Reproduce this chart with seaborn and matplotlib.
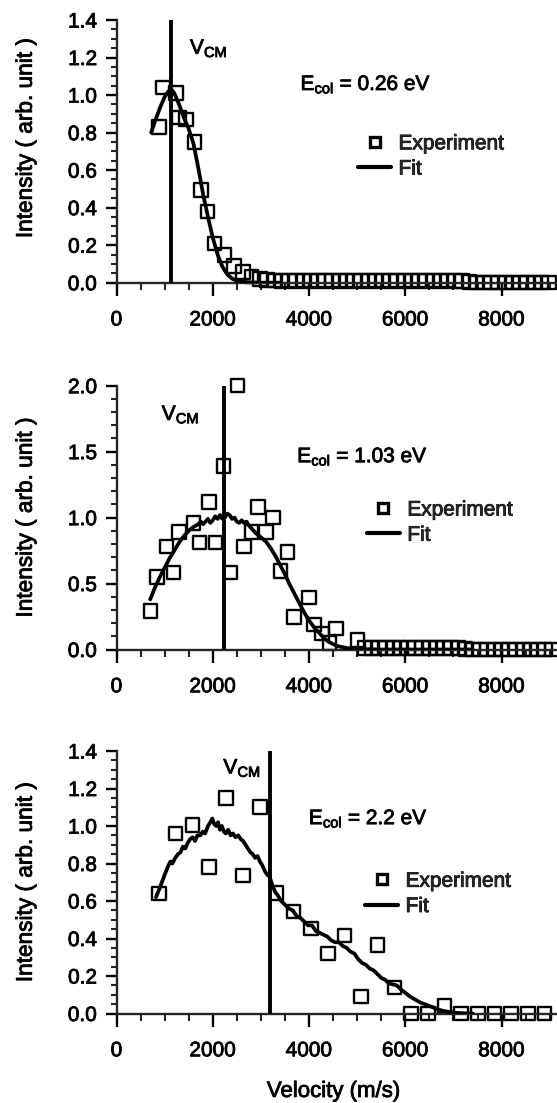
import matplotlib
matplotlib.use("Agg")
import matplotlib.pyplot as plt
import matplotlib.patheffects as pe
from matplotlib.text import Text
from matplotlib.lines import Line2D
from matplotlib.ticker import MultipleLocator, FormatStrFormatter
import seaborn as sns

# ---------------- data ----------------
# Panel 1 : Ecol = 0.26 eV
exp1_v = [880, 961, 1240, 1300, 1445, 1618, 1757, 1895, 2033, 2245, 2440, 2630, 2805, 2977,
          3130, 3280, 3430, 3580, 3730, 3880, 4030, 4180, 4330, 4480, 4630, 4780, 4930, 5080,
          5230, 5380, 5530, 5680, 5830, 5980, 6130, 6280, 6430, 6580, 6730, 6880, 7030, 7180,
          7330, 7480, 7630, 7780, 7930, 8080, 8230, 8380, 8530, 8680, 8830, 8980]
exp1_i = [0.83, 1.04, 1.01, 0.88, 0.87, 0.75, 0.495, 0.38, 0.21, 0.148, 0.09, 0.058, 0.032, 0.02,
          0.015, 0.012, 0.01, 0.012, 0.01, 0.012, 0.01, 0.012, 0.01, 0.012, 0.01, 0.012, 0.01, 0.012,
          0.01, 0.012, 0.01, 0.012, 0.01, 0.012, 0.01, 0.012, 0.01, 0.012, 0.01, 0.012, 0.01, 0.01,
          0.005, 0.0, 0.0, 0.0, 0.0, 0.0, 0.0, 0.0, 0.0, 0.0, 0.0, 0.0]
fit1_v = [720, 800, 900, 1000, 1080, 1140, 1200, 1300, 1400, 1500, 1600, 1700, 1800, 1900,
          2000, 2100, 2200, 2300, 2400, 2500, 2700, 3000, 3400]
fit1_i = [0.80, 0.86, 0.93, 0.99, 1.02, 1.03, 1.01, 0.95, 0.88, 0.82, 0.74, 0.61, 0.47, 0.35,
          0.24, 0.15, 0.085, 0.045, 0.022, 0.01, 0.003, 0.0, 0.0]

# Panel 2 : Ecol = 1.03 eV
exp2_v = [707, 846, 1040, 1185, 1300, 1600, 1720, 1920, 2060, 2225, 2370, 2515, 2650, 2800,
          2940, 3110, 3250, 3410, 3550, 3690, 4000, 4100, 4270, 4420, 4560, 5010,
          5150, 5300, 5450, 5600, 5750, 5900, 6050, 6200, 6350, 6500, 6650, 6800, 6950, 7100,
          7250, 7400, 7550, 7700, 7850, 8000, 8150, 8300, 8450, 8600, 8750, 8900, 9050]
exp2_i = [0.29, 0.55, 0.78, 0.585, 0.89, 0.96, 0.81, 1.12, 0.81, 1.39, 0.585, 2.0, 0.78, 0.89,
          1.08, 0.89, 1.0, 0.595, 0.74, 0.245, 0.395, 0.19, 0.12, 0.05, 0.16, 0.07,
          0.012, 0.01, 0.012, 0.01, 0.012, 0.01, 0.012, 0.01, 0.012, 0.01, 0.012, 0.01, 0.012, 0.01,
          0.005, 0.0, 0.0, 0.0, 0.0, 0.0, 0.0, 0.0, 0.0, 0.0, 0.0, 0.0, 0.0]
fit2_v = [700, 800, 900, 1000, 1100, 1200, 1300, 1400, 1500, 1600, 1700, 1750, 1800, 1850, 1900,
          1950, 2000, 2050, 2100, 2150, 2200, 2250, 2300, 2350, 2400, 2450, 2500, 2550, 2600,
          2650, 2700, 2750, 2800, 2900, 3000, 3100, 3200, 3300, 3400, 3500, 3600, 3700, 3800,
          3900, 4000, 4100, 4200, 4300, 4400, 4500, 4600, 4800, 5000, 5500, 6500, 7400]
fit2_i = [0.38, 0.47, 0.55, 0.62, 0.69, 0.75, 0.81, 0.86, 0.90, 0.93, 0.95, 0.97, 0.95, 0.97, 0.99,
          0.96, 0.98, 1.01, 0.99, 1.02, 0.99, 1.00, 1.03, 1.02, 0.99, 1.00, 0.97, 0.96, 0.98,
          0.96, 0.97, 0.94, 0.92, 0.88, 0.85, 0.82, 0.77, 0.71, 0.64, 0.57, 0.49, 0.42, 0.35,
          0.28, 0.22, 0.17, 0.13, 0.09, 0.06, 0.04, 0.025, 0.01, 0.004, 0.0, 0.0, 0.0]

# Panel 3 : Ecol = 2.2 eV
exp3_v = [880, 1229, 1577, 1923, 2271, 2632, 2979, 3327, 3673, 4042, 4389, 4736, 5083, 5417,
          5778, 6120, 6470, 6810, 7160, 7510, 7850, 8200, 8550, 8890]
exp3_i = [0.64, 0.96, 1.005, 0.78, 1.148, 0.735, 1.10, 0.643, 0.545, 0.454, 0.321, 0.416, 0.09,
          0.365, 0.138, 0.0, 0.0, 0.04, 0.0, 0.0, 0.0, 0.0, 0.0, 0.0]
fit3_v = [820, 900, 1000, 1080, 1120, 1160, 1220, 1280, 1330, 1380, 1430, 1480, 1530, 1580, 1630,
          1680, 1740, 1790, 1840, 1900, 1950, 1990, 2030, 2070, 2110, 2150, 2190, 2230, 2270,
          2320, 2370, 2420, 2470, 2530, 2580, 2630, 2680, 2730, 2780, 2830, 2880, 2930, 2980,
          3030, 3080, 3130, 3180, 3230, 3290, 3350, 3420, 3500, 3580, 3660, 3740, 3820, 3900,
          3980, 4060, 4140, 4220, 4300, 4380, 4460, 4540, 4620, 4700, 4780, 4860, 4940, 5020,
          5100, 5180, 5260, 5340, 5420, 5500, 5580, 5660, 5740, 5820, 5900, 6000, 6100, 6200,
          6300, 6400, 6500, 6600, 6700, 6800, 7000, 7200, 7400]
fit3_i = [0.62, 0.67, 0.74, 0.79, 0.81, 0.80, 0.83, 0.85, 0.86, 0.89, 0.88, 0.91, 0.93, 0.94, 0.92,
          0.95, 0.95, 0.97, 0.96, 1.00, 1.02, 1.04, 1.01, 1.00, 1.02, 0.98, 1.00, 0.97, 0.96,
          0.98, 0.95, 0.96, 0.94, 0.95, 0.93, 0.92, 0.90, 0.88, 0.86, 0.85, 0.83, 0.84, 0.81,
          0.79, 0.76, 0.74, 0.73, 0.69, 0.65, 0.63, 0.60, 0.58, 0.56, 0.55, 0.52, 0.51, 0.49,
          0.47, 0.47, 0.44, 0.43, 0.42, 0.41, 0.39, 0.38, 0.38, 0.36, 0.35, 0.33, 0.32, 0.29,
          0.27, 0.26, 0.24, 0.23, 0.21, 0.19, 0.18, 0.16, 0.155, 0.15, 0.13, 0.11, 0.09, 0.075,
          0.06, 0.05, 0.04, 0.03, 0.02, 0.013, 0.005, 0.001, 0.0]

v_cm = [1135, 2230, 3195]
y_top = [1.4, 2.0, 1.4]
e_col_labels = ["0.26", "1.03", "2.2"]
legend_labels = ["Experiment", "Fit"]

# ---------------- style ----------------
sns.set_theme(style="ticks")
FONT = ["Liberation Sans", "DejaVu Sans"]
plt.rcParams["font.family"] = FONT
plt.rcParams["mathtext.default"] = "regular"
plt.rcParams["axes.linewidth"] = 1.5

fig = plt.figure(figsize=(5.57, 11.03), dpi=100)

left = 116.5 / 557
width = 1 - left
panel_bottoms = [1 - 282.7 / 1103, 1 - 649.5 / 1103, 1 - 1013.5 / 1103]
panel_heights = [262.7 / 1103, 263.8 / 1103, 262.5 / 1103]

exps = [(exp1_v, exp1_i), (exp2_v, exp2_i), (exp3_v, exp3_i)]
fits = [(fit1_v, fit1_i), (fit2_v, fit2_i), (fit3_v, fit3_i)]
y_major = [0.2, 0.5, 0.2]
y_minor = [0.05, 0.1, 0.05]
vcm_text = [(1525, 1.22), (940, 1.74), (2220, 1.28)]
ecol_text = [(3822, 1.027), (3753, 1.42), (3995, 1.01)]
legend_anchor = [(0.548, 0.565), (0.568, 0.565), (0.564, 0.54)]
ylabel_pos = [0.55, 0.5, 0.5]

FS = 15

for k in range(3):
    ax = fig.add_axes([left, panel_bottoms[k], width, panel_heights[k]])
    ev, ei = exps[k]
    fv, fi = fits[k]
    sns.scatterplot(x=ev, y=ei, ax=ax, marker="s", s=95, facecolors="none",
                    edgecolor="black", linewidth=1.7, legend=False, clip_on=False, zorder=2)
    sns.lineplot(x=fv, y=fi, ax=ax, color="black", lw=2.7, sort=False,
                 estimator=None, zorder=3)
    sns.lineplot(x=[v_cm[k], v_cm[k]], y=[0, y_top[k]], ax=ax, color="black",
                 lw=2.8, sort=False, estimator=None, zorder=4)

    ax.set_xlim(0, 9150)
    ax.set_ylim(0, y_top[k])
    sns.despine(ax=ax)
    ax.spines["left"].set_linewidth(1.7)
    ax.spines["bottom"].set_linewidth(1.7)

    ax.xaxis.set_major_locator(MultipleLocator(2000))
    ax.xaxis.set_minor_locator(MultipleLocator(500))
    ax.yaxis.set_major_locator(MultipleLocator(y_major[k]))
    ax.yaxis.set_minor_locator(MultipleLocator(y_minor[k]))
    ax.yaxis.set_major_formatter(FormatStrFormatter("%.1f"))
    ax.tick_params(axis="x", which="major", direction="out", length=9, width=1.7,
                   pad=11, labelsize=FS, colors="black")
    ax.tick_params(axis="x", which="minor", direction="out", length=5, width=1.5)
    ax.tick_params(axis="y", which="major", direction="out", length=8, width=1.7,
                   pad=6, labelsize=FS, colors="black")
    ax.tick_params(axis="y", which="minor", direction="out", length=4.5, width=1.5)

    ax.set_xlabel("")
    ax.set_ylabel("Intensity ( arb. unit )", fontsize=16.3, color="black")
    ax.yaxis.set_label_coords(-0.181, ylabel_pos[k])

    ax.text(vcm_text[k][0], vcm_text[k][1], r"V$_{CM}$", fontsize=FS,
            va="baseline", ha="left", color="black")
    ax.text(ecol_text[k][0], ecol_text[k][1], r"E$_{col}$ = " + e_col_labels[k] + " eV",
            fontsize=FS, va="baseline", ha="left", color="black")

    handles = [Line2D([], [], marker="s", ls="none", mfc="none", mec="black", ms=6.5, mew=2.4),
               Line2D([], [], color="black", lw=3)]
    ax.legend(handles, legend_labels, loc="upper left", bbox_to_anchor=legend_anchor[k],
              frameon=False, borderpad=0, borderaxespad=0, handlelength=1.6,
              handletextpad=0.35, labelspacing=0.3, fontsize=FS)

    if k == 2:
        ax.set_xlabel("Velocity (m/s)", fontsize=16, color="black")
        ax.xaxis.set_label_coords(0.493, -0.257)

# heavier, scan-like text strokes
fig.canvas.draw()
for t in fig.findobj(Text):
    if t.get_text():
        t.set_path_effects([pe.withStroke(linewidth=0.6, foreground="black")])

fig.savefig("out.png", dpi=100)
